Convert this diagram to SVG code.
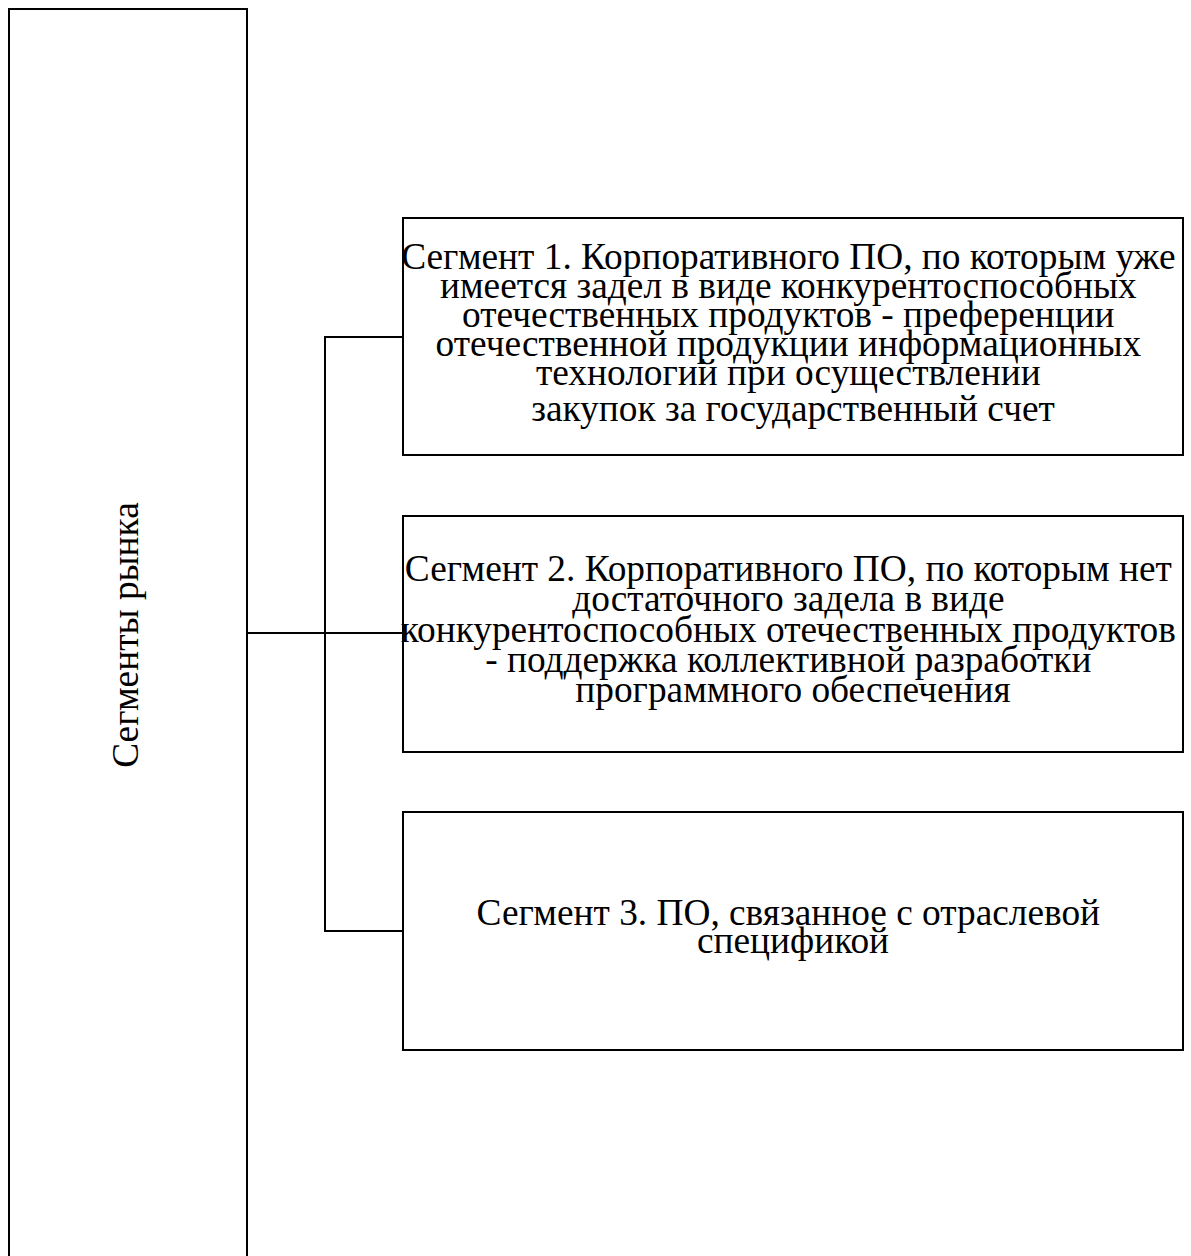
<svg xmlns="http://www.w3.org/2000/svg" width="1191" height="1256" viewBox="0 0 1191 1256">
<style>
.box{fill:#fff;stroke:#000;stroke-width:2}
.con{fill:none;stroke:#000;stroke-width:2}
.t{font-family:"Liberation Serif","Times New Roman",serif;font-size:37.33px;fill:#000;text-anchor:middle}
</style>
<rect width="1191" height="1256" fill="#fff"/>
<g id="connectors">
<path class="con" d="M247 633H403"/>
<path class="con" d="M403 337H325V931H403"/>
</g>
<g id="root">
<rect class="box" x="9" y="9" width="238" height="1300"/>
<text class="t" transform="translate(138,635) rotate(-90)" x="0" y="0">Сегменты рынка</text>
</g>
<g id="seg1">
<rect class="box" x="403" y="218" width="780" height="237"/>
<text class="t">
<tspan x="793" y="269">Сегмент 1. Корпоративного ПО, по которым уже</tspan>
<tspan x="793" y="298">имеется задел в виде конкурентоспособных</tspan>
<tspan x="793" y="327">отечественных продуктов - преференции</tspan>
<tspan x="793" y="356">отечественной продукции информационных</tspan>
<tspan x="793" y="385">технологий при осуществлении</tspan>
<tspan x="793" y="421">закупок за государственный счет</tspan>
</text>
</g>
<g id="seg2">
<rect class="box" x="403" y="516" width="780" height="236"/>
<text class="t">
<tspan x="793" y="581">Сегмент 2. Корпоративного ПО, по которым нет</tspan>
<tspan x="793" y="611">достаточного задела в виде</tspan>
<tspan x="793" y="642">конкурентоспособных отечественных продуктов</tspan>
<tspan x="793" y="672">- поддержка коллективной разработки</tspan>
<tspan x="793" y="702">программного обеспечения</tspan>
</text>
</g>
<g id="seg3">
<rect class="box" x="403" y="812" width="780" height="238"/>
<text class="t">
<tspan x="793" y="925">Сегмент 3. ПО, связанное с отраслевой</tspan>
<tspan x="793" y="953">спецификой</tspan>
</text>
</g>
</svg>
